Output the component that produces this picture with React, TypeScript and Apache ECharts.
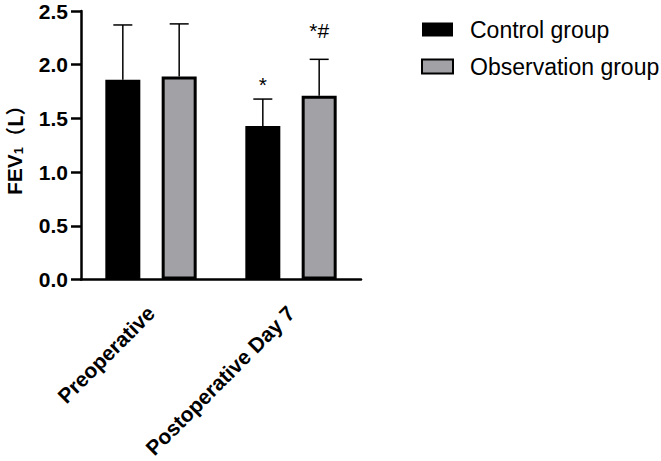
import React, { useEffect, useRef } from "react";
import * as echarts from "echarts";

const categories = ["Preoperative", "Postoperative Day 7"];
const seriesNames = ["Control group", "Observation group"];
const controlMean = [1.86, 1.43];
const controlSD = [0.51, 0.25];
const obsMean = [1.89, 1.71];
const obsSD = [0.49, 0.34];
const controlMarks = ["", "*"];
const obsMarks = ["", "*#"];
const yTicks = [0, 0.5, 1.0, 1.5, 2.0, 2.5];

const FONT = "Arial, 'Liberation Sans', Helvetica, sans-serif";
const CJK = "Noto Sans CJK SC";
const BAR_W = 35;
const BAR_GAP = 0.61;
const HALF_SPAN = (BAR_W + BAR_W * BAR_GAP) / 2;

function errorSeries(name: string, means: number[], sds: number[], marks: string[], offset: number, markGap: number[]) {
  return {
    type: "custom",
    name,
    data: means.map((m, i) => [i, m, sds[i]]),
    encode: { x: 0, y: 1 },
    z: 10,
    silent: true,
    renderItem: (params: any, api: any) => {
      const idx = api.value(0);
      const m = api.value(1);
      const sd = api.value(2);
      const p0 = api.coord([idx, m]);
      const p1 = api.coord([idx, m + sd]);
      const x = p0[0] + offset;
      const children: any[] = [
        { type: "line", shape: { x1: x, y1: p0[1], x2: x, y2: p1[1] }, style: { stroke: "#000", lineWidth: 1.5 } },
        { type: "line", shape: { x1: x - 9.5, y1: p1[1], x2: x + 9.5, y2: p1[1] }, style: { stroke: "#000", lineWidth: 1.5 } },
      ];
      const mk = marks[params.dataIndex];
      if (mk) {
        children.push({
          type: "text",
          style: {
            text: mk,
            x,
            y: p1[1] - markGap[params.dataIndex],
            align: "center",
            verticalAlign: "bottom",
            fontSize: 21,
            fontFamily: FONT,
            fill: "#000",
          },
        });
      }
      return { type: "group", children };
    },
  };
}

export default function App() {
  const ref = useRef<HTMLDivElement>(null);
  useEffect(() => {
    document.body.style.margin = "0";
    if (!ref.current) return;
    const chart = echarts.init(ref.current, undefined, { renderer: "svg" });
    chart.setOption({
      animation: false,
      backgroundColor: "#fff",
      grid: { left: 81, top: 11, width: 280, bottom: 175, containLabel: false },
      legend: {
        orient: "vertical",
        left: 416,
        top: 13,
        itemWidth: 31,
        itemHeight: 14,
        itemGap: 14,
        icon: "rect",
        data: seriesNames,
        textStyle: { fontSize: 23, fontFamily: FONT, color: "#000", padding: [0, 0, 0, 12] },
      },
      xAxis: {
        type: "category",
        data: categories,
        axisLine: { lineStyle: { color: "#000", width: 2.5 } },
        axisTick: { alignWithLabel: true, length: 11, lineStyle: { color: "#000", width: 2.5 } },
        axisLabel: {
          rotate: 45,
          fontSize: 21,
          fontWeight: "bold",
          fontFamily: FONT,
          color: "#000",
          margin: 30,
          interval: 0,
        },
      },
      yAxis: {
        type: "value",
        min: yTicks[0],
        max: yTicks[yTicks.length - 1],
        interval: 0.5,
        name: "{a|FEV}{b|1}{c|（L）}",
        nameLocation: "middle",
        nameGap: 56,
        nameTextStyle: {
          rich: {
            a: { fontSize: 21, fontWeight: "bold", fontFamily: FONT, color: "#000" },
            b: { fontSize: 13, fontWeight: "bold", fontFamily: FONT, color: "#000", verticalAlign: "bottom", padding: [9, 0, 0, 0] },
            c: { fontSize: 20, fontWeight: "bold", fontFamily: CJK, color: "#000" },
          },
        },
        axisLine: { show: true, lineStyle: { color: "#000", width: 2.5 } },
        axisTick: { show: true, length: 10, lineStyle: { color: "#000", width: 2.5 } },
        splitLine: { show: false },
        axisLabel: {
          fontSize: 21,
          fontWeight: "bold",
          fontFamily: FONT,
          color: "#000",
          margin: 13,
          formatter: (v: number) => v.toFixed(1),
        },
      },
      series: [
        {
          type: "bar",
          name: seriesNames[0],
          data: controlMean,
          barWidth: BAR_W,
          barGap: `${BAR_GAP * 100}%`,
          itemStyle: { color: "#000", borderColor: "#000", borderWidth: 0 },
        },
        {
          type: "bar",
          name: seriesNames[1],
          data: obsMean,
          barWidth: BAR_W,
          barGap: `${BAR_GAP * 100}%`,
          itemStyle: { color: "#a2a2a6", borderColor: "#000", borderWidth: 3 },
        },
        errorSeries("ctrlErr", controlMean, controlSD, controlMarks, -HALF_SPAN, [0, 4]),
        errorSeries("obsErr", obsMean, obsSD, obsMarks, HALF_SPAN, [0, 18]),
      ],
    });
    return () => chart.dispose();
  }, []);
  return <div ref={ref} style={{ width: 661, height: 461 }} />;
}
